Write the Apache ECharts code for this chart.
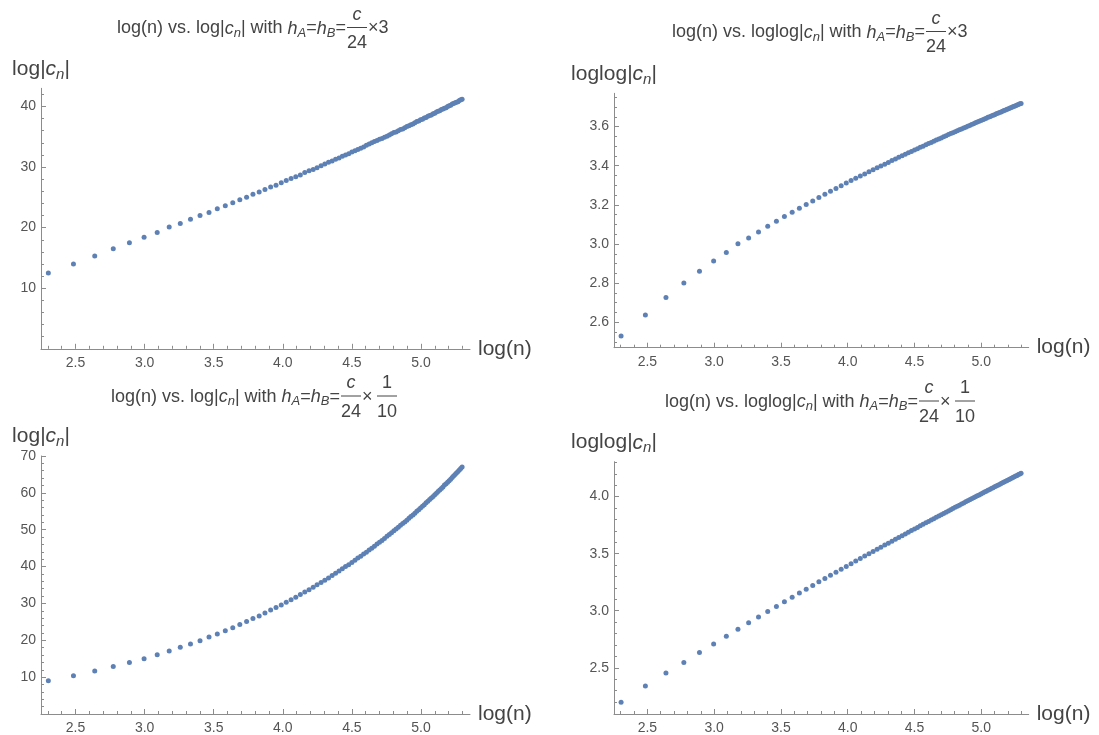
<!DOCTYPE html>
<html><head><meta charset="utf-8">
<script src="https://cdn.jsdelivr.net/npm/echarts@6/dist/echarts.min.js"></script>
<style>html,body{margin:0;padding:0;background:#fff}#c{width:1099px;height:735px}</style>
</head><body><div id="c"></div>
<script>
// x = log(n), n = 10,12,...,200
const logN = [2.303,2.485,2.639,2.773,2.890,2.996,3.091,3.178,3.258,3.332,
3.401,3.466,3.526,3.584,3.638,3.689,3.738,3.784,3.829,3.871,
3.912,3.951,3.989,4.025,4.060,4.094,4.127,4.159,4.190,4.220,
4.248,4.277,4.304,4.331,4.357,4.382,4.407,4.431,4.454,4.477,
4.500,4.522,4.543,4.564,4.585,4.605,4.625,4.644,4.663,4.682,
4.700,4.718,4.736,4.754,4.771,4.787,4.804,4.820,4.836,4.852,
4.868,4.883,4.898,4.913,4.927,4.942,4.956,4.970,4.984,4.997,
5.011,5.024,5.037,5.050,5.063,5.075,5.088,5.100,5.112,5.124,
5.136,5.148,5.159,5.170,5.182,5.193,5.204,5.215,5.226,5.236,
5.247,5.257,5.268,5.278,5.288,5.298];

// log|c_n|, h = c/24 * 3
const logC3 = [12.5,14.0,15.3,16.5,17.5,18.4,19.2,20.1,20.7,21.4,
22.0,22.5,23.1,23.6,24.1,24.6,25.0,25.5,25.9,26.3,
26.7,27.0,27.4,27.8,28.1,28.4,28.7,29.1,29.4,29.6,
29.9,30.2,30.5,30.8,31.0,31.3,31.5,31.8,32.0,32.2,
32.5,32.7,32.9,33.1,33.3,33.6,33.8,34.0,34.2,34.4,
34.6,34.7,34.9,35.1,35.3,35.5,35.7,35.8,36.0,36.2,
36.3,36.5,36.7,36.8,37.0,37.1,37.3,37.5,37.6,37.8,
37.9,38.1,38.2,38.4,38.5,38.6,38.8,38.9,39.1,39.2,
39.3,39.5,39.6,39.7,39.8,40.0,40.1,40.2,40.4,40.5,
40.6,40.7,40.8,41.0,41.1,41.2];

// loglog|c_n|, h = c/24 * 3
const loglogC3 = [2.530,2.637,2.727,2.801,2.861,2.913,2.957,3.001,3.030,3.061,
3.090,3.116,3.140,3.162,3.183,3.202,3.220,3.238,3.254,3.269,
3.284,3.298,3.311,3.324,3.336,3.347,3.358,3.369,3.379,3.389,
3.399,3.408,3.417,3.426,3.434,3.443,3.451,3.458,3.466,3.473,
3.480,3.487,3.494,3.500,3.507,3.513,3.519,3.525,3.531,3.537,
3.542,3.548,3.553,3.559,3.564,3.569,3.574,3.579,3.584,3.588,
3.593,3.597,3.602,3.606,3.611,3.615,3.619,3.623,3.627,3.631,
3.635,3.639,3.643,3.647,3.650,3.654,3.658,3.661,3.665,3.668,
3.672,3.675,3.678,3.682,3.685,3.688,3.691,3.695,3.698,3.701,
3.704,3.707,3.710,3.713,3.716,3.718];

// log|c_n|, h = c/24 * 1/10
const logC10 = [9.0,10.4,11.7,12.9,14.0,15.0,16.1,17.1,18.1,19.0,
19.9,20.9,21.7,22.6,23.4,24.3,25.1,25.9,26.6,27.4,
28.2,28.9,29.6,30.3,31.0,31.7,32.4,33.1,33.7,34.4,
35.1,35.7,36.3,36.9,37.6,38.2,38.8,39.4,40.0,40.5,
41.1,41.7,42.3,42.8,43.4,43.9,44.5,45.0,45.5,46.1,
46.6,47.1,47.6,48.2,48.7,49.2,49.7,50.2,50.7,51.2,
51.7,52.1,52.6,53.1,53.6,54.0,54.5,55.0,55.4,55.9,
56.4,56.8,57.3,57.7,58.2,58.6,59.0,59.5,59.9,60.4,
60.8,61.2,61.6,62.1,62.5,62.9,63.3,63.7,64.2,64.6,
65.0,65.4,65.8,66.2,66.6,67.0];

// loglog|c_n|, h = c/24 * 1/10
const loglogC10 = [2.197,2.341,2.454,2.547,2.633,2.709,2.776,2.837,2.894,2.945,
2.993,3.038,3.079,3.118,3.155,3.189,3.222,3.253,3.283,3.311,
3.338,3.364,3.388,3.412,3.435,3.457,3.479,3.499,3.519,3.538,
3.557,3.575,3.592,3.609,3.626,3.642,3.658,3.673,3.688,3.702,
3.716,3.730,3.744,3.757,3.770,3.782,3.795,3.807,3.819,3.830,
3.842,3.853,3.864,3.875,3.885,3.895,3.906,3.916,3.925,3.935,
3.945,3.954,3.963,3.972,3.981,3.990,3.998,4.007,4.015,4.024,
4.032,4.040,4.048,4.056,4.063,4.071,4.078,4.086,4.093,4.100,
4.107,4.114,4.121,4.128,4.135,4.142,4.148,4.155,4.161,4.168,
4.174,4.180,4.186,4.193,4.199,4.205];

// tick values
const xMajor = [2.5,3.0,3.5,4.0,4.5,5.0];
const xMinor = [2.3,2.4,2.6,2.7,2.8,2.9,3.1,3.2,3.3,3.4,3.6,3.7,3.8,3.9,4.1,4.2,4.3,4.4,4.6,4.7,4.8,4.9,5.1,5.2,5.3];
const tlMajor = [10,20,30,40];
const tlMinor = [2,4,6,8,12,14,16,18,22,24,26,28,32,34,36,38,42];
const trMajor = [2.6,2.8,3.0,3.2,3.4,3.6];
const trMinor = [2.5,2.55,2.65,2.7,2.75,2.85,2.9,2.95,3.05,3.1,3.15,3.25,3.3,3.35,3.45,3.5,3.55,3.65,3.7,3.75];
const blMajor = [10,20,30,40,50,60,70];
const blMinor = [2,4,6,8,12,14,16,18,22,24,26,28,32,34,36,38,42,44,46,48,52,54,56,58,62,64,66,68];
const brMajor = [2.5,3.0,3.5,4.0];
const brMinor = [2.2,2.3,2.4,2.6,2.7,2.8,2.9,3.1,3.2,3.3,3.4,3.6,3.7,3.8,3.9,4.1,4.2,4.3];

const FONT = '"Liberation Sans", Arial, sans-serif';
const AXIS = '#8c8c8c';
const LABEL = '#555555';
const TEXT = '#444444';
const DOT = '#5E81B5';
const XMIN = 2.25, XMAX = 5.355;

const grids = [
  {left: 41, top: 88.3, width: 429, height: 260.5},
  {left: 614, top: 93.3, width: 414.7, height: 254.4},
  {left: 41, top: 456, width: 429, height: 262.5},
  {left: 614, top: 461.7, width: 414.7, height: 255}
];
const yRanges = [[0, 43], [2.47, 3.77], [0, 70], [2.095, 4.306]];
const yTicks = [[tlMajor, tlMinor, 0], [trMajor, trMinor, 1], [blMajor, blMinor, 0], [brMajor, brMinor, 1]];
const yNames = ['log|{i|c}{s|n}|', 'loglog|{i|c}{s|n}|', 'log|{i|c}{s|n}|', 'loglog|{i|c}{s|n}|'];
const yData = [logC3, loglogC3, logC10, loglogC10];

const nameStyle = {
  fontSize: 21, color: TEXT, fontFamily: FONT, lineHeight: 26,
  rich: {
    i: {fontSize: 21, fontStyle: 'italic', color: TEXT, fontFamily: FONT, lineHeight: 26},
    s: {fontSize: 15, fontStyle: 'italic', color: TEXT, fontFamily: FONT, lineHeight: 14, verticalAlign: 'bottom'}
  }
};

const xAxes = [], yAxes = [], series = [];
grids.forEach((g, k) => {
  xAxes.push({
    type: 'value', gridIndex: k, min: XMIN, max: XMAX, position: 'bottom',
    axisLine: {show: true, onZero: false, lineStyle: {color: AXIS, width: 1}},
    axisTick: {show: true, inside: true, length: 5, customValues: xMajor, lineStyle: {color: AXIS}},
    axisLabel: {show: true, customValues: xMajor, formatter: v => v.toFixed(1), margin: 7, color: LABEL, fontSize: 14, fontFamily: FONT},
    splitLine: {show: false},
    name: 'log(n)', nameLocation: 'end', nameGap: 8,
    nameTextStyle: {fontSize: 21, color: TEXT, fontFamily: FONT, align: 'left', verticalAlign: 'middle'}
  });
  xAxes.push({
    type: 'value', gridIndex: k, min: XMIN, max: XMAX, position: 'bottom',
    axisLine: {show: false, onZero: false},
    axisTick: {show: true, inside: true, length: 3, customValues: xMinor, lineStyle: {color: AXIS}},
    axisLabel: {show: false}, splitLine: {show: false}
  });
  const [maj, min, dec] = yTicks[k];
  yAxes.push({
    type: 'value', gridIndex: k, min: yRanges[k][0], max: yRanges[k][1], position: 'left',
    axisLine: {show: true, onZero: false, lineStyle: {color: AXIS, width: 1}},
    axisTick: {show: true, inside: true, length: 5, customValues: maj, lineStyle: {color: AXIS}},
    axisLabel: {show: true, customValues: maj, formatter: v => v.toFixed(dec), margin: 5, color: LABEL, fontSize: 14, fontFamily: FONT},
    splitLine: {show: false},
    name: yNames[k], nameLocation: 'end', nameGap: 19,
    nameTextStyle: Object.assign({align: 'center', verticalAlign: 'middle'}, nameStyle)
  });
  yAxes.push({
    type: 'value', gridIndex: k, min: yRanges[k][0], max: yRanges[k][1], position: 'left',
    axisLine: {show: false, onZero: false},
    axisTick: {show: true, inside: true, length: 3, customValues: min, lineStyle: {color: AXIS}},
    axisLabel: {show: false}, splitLine: {show: false}
  });
  series.push({
    type: 'scatter', xAxisIndex: 2 * k, yAxisIndex: 2 * k,
    data: logN.map((x, i) => [x, yData[k][i]]),
    symbol: 'circle', symbolSize: 5, itemStyle: {color: DOT, opacity: 1}, silent: true
  });
});

// Titles (text + stacked fractions)
const TS = 18;
const mainRich = {
  i: {fontSize: TS, fontStyle: 'italic', fill: TEXT, fontFamily: FONT, lineHeight: 22},
  s: {fontSize: 13, fontStyle: 'italic', fill: TEXT, fontFamily: FONT, lineHeight: 12, verticalAlign: 'bottom'}
};
function txt(x, y, text, align, extra) {
  return {type: 'text', silent: true, style: Object.assign({
    x: x, y: y, text: text, align: align, verticalAlign: 'middle',
    fontSize: TS, fontFamily: FONT, fill: TEXT, lineHeight: 22, rich: mainRich}, extra || {})};
}
function frac(cx, cy, num, den, italicNum) {
  return [
    txt(cx, cy - 14, num, 'center', italicNum ? {fontStyle: 'italic'} : {}),
    {type: 'line', silent: true, shape: {x1: cx - 10, y1: cy - 1, x2: cx + 10, y2: cy - 1}, style: {stroke: TEXT, lineWidth: 1}},
    txt(cx, cy + 15, den, 'center')
  ];
}
const titleA = 'log(n) vs. log|{i|c}{s|n}| with {i|h}{s|A}={i|h}{s|B}=';
const titleB = 'log(n) vs. loglog|{i|c}{s|n}| with {i|h}{s|A}={i|h}{s|B}=';
const titles = [
  {cx: 357, cy: 28.5, main: titleA, tenth: false},
  {cx: 936, cy: 32.5, main: titleB, tenth: false},
  {cx: 351, cy: 397, main: titleA, tenth: true},
  {cx: 929, cy: 402, main: titleB, tenth: true}
];
const graphics = [];
titles.forEach(t => {
  graphics.push(txt(t.cx - 11, t.cy, t.main, 'right'));
  graphics.push(...frac(t.cx, t.cy, 'c', '24', true));
  if (!t.tenth) {
    graphics.push(txt(t.cx + 11, t.cy, '×3', 'left'));
  } else {
    graphics.push(txt(t.cx + 11, t.cy, '×', 'left'));
    graphics.push(...frac(t.cx + 36, t.cy, '1', '10', false));
  }
});

const chart = echarts.init(document.getElementById('c'), null, {renderer: 'canvas'});
chart.setOption({
  animation: false,
  backgroundColor: '#ffffff',
  grid: grids,
  xAxis: xAxes,
  yAxis: yAxes,
  series: series,
  graphic: graphics
});
</script></body></html>
